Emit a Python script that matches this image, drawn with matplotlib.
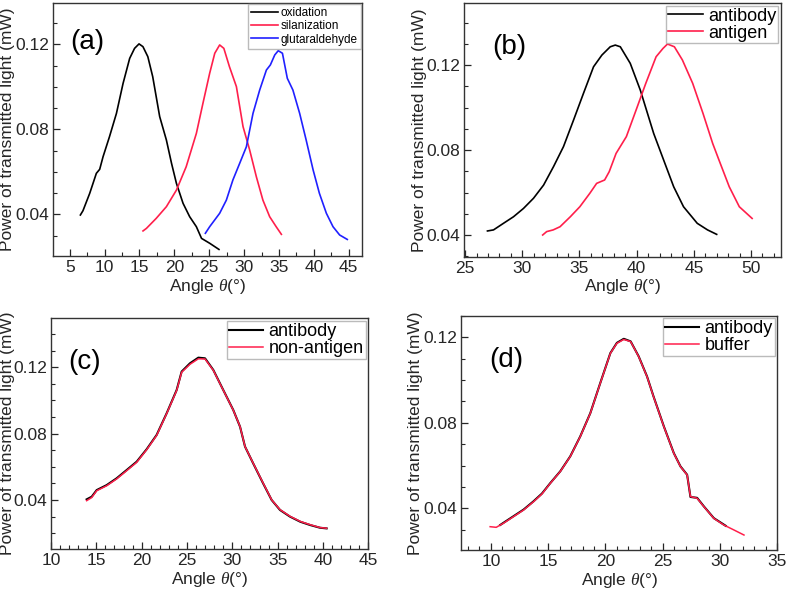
import matplotlib.pyplot as plt
from matplotlib.ticker import MultipleLocator

plt.rcParams['font.family'] = ['Liberation Sans', 'DejaVu Sans']
plt.rcParams['mathtext.fontset'] = 'custom'
plt.rcParams['mathtext.it'] = 'Liberation Serif:italic'

# (a) surface modification steps
ox_x = [6.53, 6.9, 7.87, 8.82, 9.3, 9.78, 10.7, 11.7, 12.65, 13.6, 14.3, 14.94, 15.5, 16.2,
        16.9, 17.9, 18.86, 19.6, 20.3, 21.25, 22.2, 23.16, 23.9, 25.07, 26.4]
ox_y = [0.0397, 0.0417, 0.0499, 0.0593, 0.0612, 0.0671, 0.0765, 0.0875, 0.1016, 0.1134, 0.1181,
        0.1202, 0.1189, 0.1142, 0.1048, 0.086, 0.075, 0.064, 0.0546, 0.0452, 0.0389, 0.0342,
        0.0287, 0.0264, 0.0235]
sil_x = [15.51, 16.0, 17.4, 18.86, 20.3, 21.7, 23.16, 24.1, 25.07, 25.8, 26.5, 27.1, 27.9,
         28.9, 29.85, 30.8, 31.76, 32.7, 33.67, 34.6, 35.35]
sil_y = [0.0322, 0.0334, 0.0381, 0.0436, 0.0514, 0.0624, 0.0781, 0.0922, 0.1064, 0.1158, 0.1197,
         0.1181, 0.1095, 0.1001, 0.0813, 0.0703, 0.0577, 0.0467, 0.0389, 0.0342, 0.0306]
glu_x = [24.45, 25.07, 26.5, 27.46, 28.4, 29.37, 30.33, 31.28, 32.24, 33.2, 33.77, 34.4, 34.9,
         35.5, 36.2, 37.0, 37.97, 38.9, 39.9, 40.8, 41.8, 42.75, 43.7, 44.8]
glu_y = [0.0311, 0.0342, 0.0405, 0.0467, 0.0562, 0.064, 0.0718, 0.0875, 0.0985, 0.1079, 0.1103,
         0.115, 0.117, 0.1158, 0.104, 0.0985, 0.0875, 0.075, 0.0609, 0.0499, 0.0405, 0.0342,
         0.0303, 0.0282]

# (b) antibody vs antigen
ab_b_x = [26.95, 27.48, 28.35, 29.23, 30.1, 30.98, 31.86, 32.73, 33.6, 34.48, 35.35, 36.23,
          36.96, 37.69, 38.13, 38.57, 39.44, 40.32, 41.49, 42.36, 43.24, 44.1, 45.3, 46.2, 47.0]
ab_b_y = [0.0419, 0.0424, 0.0455, 0.0486, 0.0525, 0.0573, 0.0635, 0.0722, 0.0816, 0.0941, 0.1067,
          0.1192, 0.1247, 0.1286, 0.1294, 0.1286, 0.1208, 0.1082, 0.0878, 0.0753, 0.0627, 0.0533,
          0.0455, 0.0424, 0.0403]
ag_x = [31.78, 32.13, 32.7, 33.3, 34.2, 35.03, 35.9, 36.5, 37.2, 37.6, 38.2, 39.1, 39.95, 40.8,
        41.7, 42.3, 42.7, 43.3, 44.0, 44.9, 45.8, 46.65, 47.2, 48.1, 48.98, 50.1]
ag_y = [0.04, 0.0416, 0.0424, 0.0439, 0.0486, 0.0533, 0.0596, 0.0643, 0.0659, 0.0698, 0.0784,
        0.0863, 0.0988, 0.1114, 0.1239, 0.1278, 0.1299, 0.1286, 0.1224, 0.1114, 0.0973, 0.0831,
        0.0753, 0.0627, 0.0533, 0.0478]

# (c) antibody vs non-antigen
c_x = [13.93, 14.49, 15.04, 16.14, 17.24, 18.35, 19.45, 20.55, 21.65, 22.76, 23.86, 24.41,
       25.33, 26.25, 26.99, 27.9, 29.0, 30.1, 30.85, 31.4, 32.3, 33.4, 34.34, 35.26, 36.36,
       37.5, 38.6, 39.67, 40.4]
ab_c_y = [0.0404, 0.042, 0.046, 0.049, 0.0531, 0.0581, 0.0631, 0.0706, 0.0792, 0.0923, 0.1063,
          0.1174, 0.1224, 0.1258, 0.1254, 0.1184, 0.1063, 0.0943, 0.0842, 0.0722, 0.0621, 0.05,
          0.04, 0.034, 0.03, 0.0269, 0.0249, 0.0233, 0.0229]
na_y = [0.0396, 0.0415, 0.0456, 0.0486, 0.0527, 0.0577, 0.0627, 0.0703, 0.0789, 0.0921, 0.1060,
        0.1170, 0.1218, 0.1251, 0.1250, 0.1182, 0.1062, 0.0942, 0.0843, 0.0722, 0.0622, 0.0502,
        0.0401, 0.0342, 0.0302, 0.0271, 0.0251, 0.0234, 0.0230]

# (d) antibody vs buffer
buf_x = [9.94, 10.47, 11.1, 11.98, 12.86, 13.73, 14.46, 15.19, 16.06, 16.93, 17.8, 18.68, 19.55,
         20.43, 21.0, 21.6, 22.2, 22.9, 23.63, 24.2, 25.1, 25.97, 26.55, 27.13, 27.42, 28.0,
         28.59, 29.46, 30.33, 31.2, 32.09]
buf_y = [0.0314, 0.0311, 0.033, 0.0361, 0.0392, 0.0431, 0.0467, 0.0517, 0.0572, 0.0642, 0.0735,
         0.0844, 0.0985, 0.1125, 0.1172, 0.119, 0.118, 0.111, 0.1016, 0.0922, 0.0782, 0.0657,
         0.0595, 0.0556, 0.0455, 0.0447, 0.0408, 0.0353, 0.0322, 0.0299, 0.0275]
ab_d_x = [10.82, 11.1, 11.98, 12.86, 13.73, 14.46, 15.19, 16.06, 16.93, 17.8, 18.68, 19.55,
          20.43, 21.0, 21.6, 22.2, 22.9, 23.63, 24.2, 25.1, 25.97, 26.55, 27.13, 27.42, 28.0,
          28.59, 29.46, 30.5]
ab_d_y = [0.0322, 0.0332, 0.0363, 0.0394, 0.0433, 0.0469, 0.0518, 0.0573, 0.0643, 0.0736,
          0.0845, 0.0986, 0.1126, 0.1174, 0.1193, 0.1181, 0.1111, 0.1017, 0.0923, 0.0783,
          0.0658, 0.0596, 0.0557, 0.0453, 0.0449, 0.0409, 0.0354, 0.0318]

RED = '#ff1f4b'
BLUE = '#2020ff'
INK = '#262626'

fig = plt.figure(figsize=(7.87, 5.91), dpi=100)
ax_a = fig.add_axes([0.0673, 0.5668, 0.3926, 0.428])
ax_b = fig.add_axes([0.5896, 0.5657, 0.4024, 0.4292])
ax_c = fig.add_axes([0.0648, 0.0711, 0.4032, 0.3903])
ax_d = fig.add_axes([0.5858, 0.0694, 0.4019, 0.3964])

ax_a.plot(ox_x, ox_y, color='black', lw=1.2, label='oxidation')
ax_a.plot(sil_x, sil_y, color=RED, lw=1.2, label='silanization')
ax_a.plot(glu_x, glu_y, color=BLUE, lw=1.2, label='glutaraldehyde')

ax_b.plot(ab_b_x, ab_b_y, color='black', lw=1.2, label='antibody')
ax_b.plot(ag_x, ag_y, color=RED, lw=1.2, label='antigen')

ax_c.plot(c_x, ab_c_y, color='black', lw=1.5, label='antibody')
ax_c.plot(c_x, na_y, color=RED, lw=1.1, label='non-antigen')

ax_d.plot(ab_d_x, ab_d_y, color='black', lw=1.5, label='antibody')
ax_d.plot(buf_x, buf_y, color=RED, lw=1.1, label='buffer')

# xlim, ylim, x minor step, tag position, tag, ylabel x position
limits = {
    ax_a: ((2.6, 46.9), (0.0204, 0.1394), 2.5, (0.055, 0.82), '(a)', -0.122),
    ax_b: ((24.9, 52.6), (0.0298, 0.1492), 1, (0.09, 0.80), '(b)', -0.117),
    ax_c: ((10, 45), (0.0105, 0.1495), 1, (0.055, 0.78), '(c)', -0.113),
    ax_d: ((7.4, 35), (0.0205, 0.1301), 1, (0.09, 0.78), '(d)', -0.119),
}

for ax, (xl, yl, xmin, tpos, tag, ylx) in limits.items():
    ax.set_xlim(*xl)
    ax.set_ylim(*yl)
    ax.xaxis.set_major_locator(MultipleLocator(5))
    ax.xaxis.set_minor_locator(MultipleLocator(xmin))
    ax.yaxis.set_major_locator(MultipleLocator(0.04))
    ax.yaxis.set_minor_locator(MultipleLocator(0.01))
    ax.yaxis.set_major_formatter(plt.FuncFormatter(lambda v, p: f'{v:.2f}'))
    ax.tick_params(which='both', direction='in', top=False, right=False,
                   labelsize=12.5, colors=INK, pad=3)
    ax.tick_params(which='major', length=5, width=0.9)
    ax.tick_params(which='minor', length=3, width=0.8)
    for s in ax.spines.values():
        s.set_color('#333333')
        s.set_linewidth(1.0)
    ax.set_xlabel(r'Angle $\it{\theta}$(°)', fontsize=12.5, labelpad=1, color=INK)
    ax.set_ylabel('Power of transmitted light (mW)', fontsize=12.5, color=INK)
    ax.yaxis.set_label_coords(ylx, 0.5)
    ax.text(tpos[0], tpos[1], tag, transform=ax.transAxes, fontsize=20, color='black')

ax_a.legend(loc='upper right', fontsize=8.5, handlelength=2.3, borderaxespad=0.1,
            handletextpad=0.2, labelspacing=0.1, fancybox=False, edgecolor='#aaaaaa',
            borderpad=0.25)
for ax in (ax_b, ax_c, ax_d):
    ax.legend(loc='upper right', fontsize=13, handlelength=1.9, borderaxespad=0.15,
              handletextpad=0.3, labelspacing=0.0, fancybox=False, edgecolor='#aaaaaa',
              borderpad=0.1)

fig.savefig('out.png', dpi=100)
